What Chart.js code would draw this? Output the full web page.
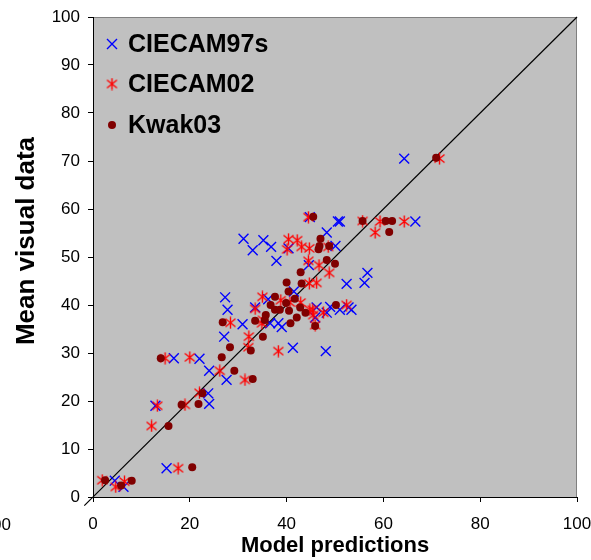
<!DOCTYPE html>
<html>
<head>
<meta charset="utf-8">
<script src="https://cdn.jsdelivr.net/npm/chart.js@4"></script>
<style>
  body { margin: 0; background: #fff; }
  canvas { display: block; }
</style>
</head>
<body>
<canvas id="scatterChart" width="591" height="560"></canvas>
<script>
// Data: [model prediction, mean visual data]
const ciecam97s = [
  [64.3, 70.5], [51.0, 57.4], [50.6, 57.4], [66.6, 57.4], [44.8, 58.3], [48.3, 55.1],
  [35.2, 53.5], [31.1, 53.8], [36.8, 52.1], [33.0, 51.4], [40.4, 51.8], [50.1, 52.3],
  [37.9, 49.2], [44.6, 48.3], [56.7, 46.7], [56.1, 44.6], [52.4, 44.4], [27.3, 41.6],
  [27.8, 39.0], [33.5, 39.5], [36.2, 41.2], [41.5, 42.8], [46.2, 39.5], [48.3, 38.4],
  [49.0, 39.6], [51.0, 39.0], [52.8, 39.5], [53.4, 39.0], [45.9, 37.4], [30.9, 36.0],
  [36.6, 36.2], [38.3, 36.2], [39.0, 35.4], [27.1, 33.4], [41.3, 31.1], [48.1, 30.4],
  [22.0, 28.8], [16.7, 28.9], [24.0, 26.3], [27.6, 24.4], [23.8, 21.6], [24.0, 19.4],
  [12.9, 19.0], [15.2, 6.0], [4.5, 3.4], [6.3, 2.1]
];
const ciecam02 = [
  [71.6, 70.5], [44.5, 58.3], [55.7, 57.5], [59.3, 57.4], [64.3, 57.4], [58.3, 55.1],
  [40.4, 53.7], [42.2, 53.5], [40.1, 51.6], [43.1, 52.1], [44.7, 51.8], [48.6, 52.1],
  [44.5, 49.2], [46.7, 48.3], [48.8, 46.7], [44.7, 44.5], [46.2, 44.6], [35.0, 41.7],
  [38.8, 41.0], [33.5, 39.2], [40.7, 40.5], [42.9, 40.5], [44.8, 39.0], [45.4, 39.0],
  [45.5, 37.9], [47.6, 38.4], [52.4, 40.0], [35.1, 36.9], [34.9, 36.2], [28.4, 36.3],
  [45.9, 35.8], [32.2, 33.4], [32.1, 31.2], [38.3, 30.4], [20.0, 29.1], [14.9, 28.9],
  [26.2, 26.3], [31.4, 24.4], [22.0, 21.7], [19.0, 19.2], [13.3, 19.0], [12.1, 14.8],
  [17.6, 6.0], [1.9, 3.5], [4.7, 2.1], [6.5, 3.2]
];
const kwak03 = [
  [70.9, 70.7], [45.5, 58.4], [55.7, 57.5], [60.5, 57.5], [61.8, 57.5], [61.2, 55.2],
  [47.0, 53.8], [46.8, 52.3], [46.6, 51.6], [48.8, 52.3], [48.3, 49.4], [50.0, 48.6],
  [42.9, 46.8], [40.0, 44.7], [43.1, 44.5], [40.4, 42.8], [37.6, 41.7], [36.7, 40.0],
  [37.6, 39.0], [38.6, 39.0], [39.9, 40.4], [41.7, 41.3], [42.8, 39.5], [40.5, 38.8],
  [42.1, 37.4], [40.8, 36.2], [43.9, 38.4], [45.9, 35.6], [50.2, 40.0], [35.7, 37.9],
  [35.5, 36.9], [33.5, 36.7], [26.8, 36.4], [35.1, 33.4], [28.3, 31.2], [32.6, 30.5],
  [26.6, 29.1], [14.0, 28.9], [29.2, 26.3], [33.0, 24.6], [22.6, 21.6], [21.8, 19.4],
  [18.3, 19.2], [15.6, 14.8], [20.5, 6.2], [2.5, 3.5], [5.8, 2.4], [8.0, 3.4]
];
// y = x reference line (slightly past the origin like the original)
const refLine = [-1.8, 100];
const seriesNames = ["CIECAM97s", "CIECAM02", "Kwak03"];
const xTitle = "Model predictions";
const yTitle = "Mean visual data";

const FONT = "'Liberation Sans', Arial, sans-serif";

// asterisk marker (X with a vertical bar)
function makeAsterisk(color) {
  const c = document.createElement("canvas");
  c.width = 13;
  c.height = 13;
  const g = c.getContext("2d");
  g.strokeStyle = color;
  g.lineWidth = 1.4;
  g.beginPath();
  g.moveTo(1.5, 2.5); g.lineTo(11.5, 10.5);
  g.moveTo(11.5, 2.5); g.lineTo(1.5, 10.5);
  g.moveTo(6.5, 0.5); g.lineTo(6.5, 12.5);
  g.stroke();
  return c;
}
const asterisk = makeAsterisk("#ff0000");

const toPoints = (arr) => arr.map((p) => ({ x: p[0], y: p[1] }));

// ===================================
// PLUGINS
// ===================================
const plotBackground = {
  id: "plotBackground",
  beforeDraw(chart) {
    const { ctx, chartArea: a } = chart;
    ctx.save();
    ctx.fillStyle = "#c0c0c0";
    ctx.fillRect(a.left, a.top, a.right - a.left, a.bottom - a.top);
    ctx.strokeStyle = "#808080";
    ctx.lineWidth = 1;
    ctx.beginPath();
    ctx.moveTo(a.left, a.top + 0.5);
    ctx.lineTo(a.right - 0.5, a.top + 0.5);
    ctx.lineTo(a.right - 0.5, a.bottom);
    ctx.stroke();
    ctx.restore();
  },
};

const extras = {
  id: "extras",
  afterDraw(chart) {
    const { ctx, chartArea: a } = chart;
    ctx.save();
    // legend inside plot
    const lx = 112;
    const rows = [44, 84, 125];
    ctx.font = "bold 25px " + FONT;
    ctx.fillStyle = "#000";
    ctx.textBaseline = "middle";
    ctx.textAlign = "left";
    rows.forEach((y, i) => ctx.fillText(seriesNames[i], 128, y + 1));
    // blue x
    ctx.strokeStyle = "#0000ff";
    ctx.lineWidth = 1.4;
    ctx.beginPath();
    ctx.moveTo(lx - 5, rows[0] - 5); ctx.lineTo(lx + 5, rows[0] + 5);
    ctx.moveTo(lx + 5, rows[0] - 5); ctx.lineTo(lx - 5, rows[0] + 5);
    ctx.stroke();
    ctx.drawImage(asterisk, lx - 6.5, rows[1] - 6.5);
    ctx.fillStyle = "#800000";
    ctx.beginPath();
    ctx.arc(lx, rows[2], 4, 0, Math.PI * 2);
    ctx.fill();

    // axis titles
    ctx.fillStyle = "#000";
    ctx.font = "bold 22px " + FONT;
    ctx.textAlign = "center";
    ctx.fillText(xTitle, (a.left + a.right) / 2, 546);
    ctx.font = "bold 26px " + FONT;
    ctx.translate(27, 241);
    ctx.rotate(-Math.PI / 2);
    ctx.fillText(yTitle, 0, 0);
    ctx.restore();

    // clipped label from the neighbouring chart
    ctx.save();
    ctx.font = "17px " + FONT;
    ctx.fillStyle = "#000";
    ctx.textAlign = "right";
    ctx.textBaseline = "middle";
    ctx.fillText("100", 11, 525);
    ctx.restore();
  },
};

// ===================================
// CHART
// ===================================
const tickFont = { family: FONT, size: 17 };

new Chart(document.getElementById("scatterChart"), {
  type: "scatter",
  data: {
    datasets: [
      {
        label: "y = x",
        type: "line",
        data: refLine.map((v) => ({ x: v, y: v })),
        borderColor: "#000",
        borderWidth: 1.2,
        pointRadius: 0,
        showLine: true,
        clip: false,
        order: 3,
      },
      {
        label: seriesNames[0],
        data: toPoints(ciecam97s),
        pointStyle: "crossRot",
        pointRadius: 7,
        borderColor: "#0000ff",
        backgroundColor: "#0000ff",
        borderWidth: 1.4,
        order: 2,
      },
      {
        label: seriesNames[1],
        data: toPoints(ciecam02),
        pointStyle: asterisk,
        pointRadius: 6,
        order: 1,
      },
      {
        label: seriesNames[2],
        data: toPoints(kwak03),
        pointStyle: "circle",
        pointRadius: 4,
        borderWidth: 0,
        backgroundColor: "#800000",
        borderColor: "#800000",
        order: 0,
      },
    ],
  },
  options: {
    responsive: false,
    animation: false,
    layout: { padding: { top: 17, right: 14, left: 0, bottom: 0 } },
    plugins: {
      legend: { display: false },
      tooltip: { enabled: false },
    },
    scales: {
      x: {
        type: "linear",
        min: 0,
        max: 100,
        afterFit: (scale) => {
          scale.height = 63;
          scale.paddingLeft = 0;
          scale.paddingRight = 0;
        },
        ticks: { stepSize: 20, color: "#000", font: tickFont, padding: 12, maxRotation: 0 },
        grid: { drawOnChartArea: false, color: "#000", tickLength: 5 },
        border: { color: "#000", width: 1 },
      },
      y: {
        type: "linear",
        min: 0,
        max: 100,
        afterFit: (scale) => {
          scale.width = 93;
          scale.paddingTop = 0;
          scale.paddingBottom = 0;
        },
        ticks: { stepSize: 10, color: "#000", font: tickFont, padding: 8 },
        grid: { drawOnChartArea: false, color: "#000", tickLength: 5 },
        border: { color: "#000", width: 1 },
      },
    },
  },
  plugins: [plotBackground, extras],
});
</script>
</body>
</html>
